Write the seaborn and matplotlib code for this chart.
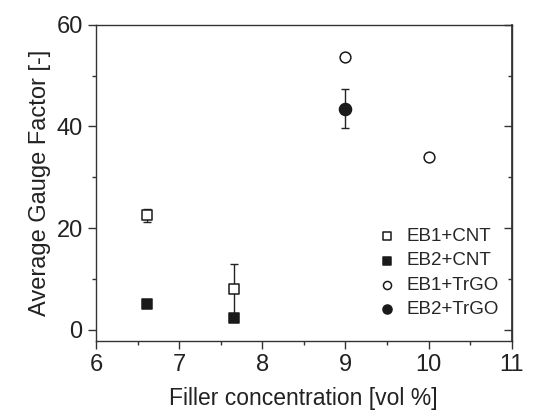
import matplotlib
matplotlib.use('Agg')
import matplotlib.pyplot as plt
from matplotlib.ticker import MultipleLocator
import seaborn as sns
import pandas as pd

# Data
series = ['EB1+CNT', 'EB2+CNT', 'EB1+TrGO', 'EB2+TrGO']
eb1_cnt_x = [6.62, 7.66]
eb1_cnt_y = [22.5, 8.0]
eb1_cnt_err = [1.3, 5.0]
eb2_cnt_x = [6.62, 7.66]
eb2_cnt_y = [5.0, 2.3]
eb2_cnt_err = [0.0, 0.0]
eb1_trgo_x = [9.0, 10.0]
eb1_trgo_y = [53.7, 34.0]
eb1_trgo_err = [0.0, 0.0]
eb2_trgo_x = [9.0]
eb2_trgo_y = [43.5]
eb2_trgo_err = [3.8]

df = pd.DataFrame({
    'x': eb1_cnt_x + eb2_cnt_x + eb1_trgo_x + eb2_trgo_x,
    'y': eb1_cnt_y + eb2_cnt_y + eb1_trgo_y + eb2_trgo_y,
    'err': eb1_cnt_err + eb2_cnt_err + eb1_trgo_err + eb2_trgo_err,
    'series': [series[0]] * 2 + [series[1]] * 2 + [series[2]] * 2 + [series[3]] * 1,
})

sns.set_theme(style='ticks')
plt.rcParams['font.family'] = ['Liberation Sans', 'DejaVu Sans']

fig, ax = plt.subplots(figsize=(5.33, 4.11), dpi=100)
fig.subplots_adjust(left=0.18, right=0.96, top=0.94, bottom=0.17)

# error bars first, underneath markers
for s in series:
    d = df[df['series'] == s]
    d = d[d['err'] > 0]
    if len(d):
        ax.errorbar(d['x'], d['y'], yerr=d['err'], fmt='none', ecolor='#222222',
                    elinewidth=1.0, capsize=3, capthick=1.0, zorder=1)

markers = {'EB1+CNT': 's', 'EB2+CNT': 's', 'EB1+TrGO': 'o', 'EB2+TrGO': 'o'}
faces = {'EB1+CNT': 'white', 'EB2+CNT': '#1a1a1a', 'EB1+TrGO': 'white', 'EB2+TrGO': '#1a1a1a'}
sizes = {'EB1+CNT': 62, 'EB2+CNT': 62, 'EB1+TrGO': 60, 'EB2+TrGO': 75}
for s in series:
    d = df[df['series'] == s]
    sns.scatterplot(x=d['x'], y=d['y'], ax=ax, marker=markers[s], s=sizes[s],
                    color=faces[s], edgecolor='#1a1a1a', linewidth=1.1,
                    label=s, zorder=3)

ax.set_xlim(6, 11)
ax.set_ylim(-2.2, 60)
ax.xaxis.set_major_locator(MultipleLocator(1))
ax.xaxis.set_minor_locator(MultipleLocator(0.5))
ax.yaxis.set_major_locator(MultipleLocator(20))
ax.yaxis.set_minor_locator(MultipleLocator(10))

for sp in ax.spines.values():
    sp.set_visible(True)
    sp.set_color('#333333')
    sp.set_linewidth(1.0)

ax.tick_params(which='both', direction='out', colors='#333333', labelsize=17,
               labelcolor='#222222')
ax.tick_params(which='major', length=6, width=1)
ax.tick_params(which='minor', length=3, width=1)
ax.tick_params(which='both', right=False, top=False)

# inward ticks on the right side
sec = ax.secondary_yaxis('right')
sec.yaxis.set_major_locator(MultipleLocator(20))
sec.yaxis.set_minor_locator(MultipleLocator(10))
sec.tick_params(which='both', direction='in', colors='#333333', labelright=False)
sec.tick_params(which='major', length=6, width=1)
sec.tick_params(which='minor', length=3, width=1)
sec.spines['right'].set_color('#333333')

ax.set_xlabel('Filler concentration [vol %]', fontsize=16.5, color='#222222', labelpad=8)
ax.set_ylabel('Average Gauge Factor [-]', fontsize=17, color='#222222', labelpad=4)

ax.legend(loc='lower right', frameon=False, fontsize=13.5, handletextpad=0.25,
          handlelength=1.6, labelspacing=0.38, bbox_to_anchor=(1.01, 0.02),
          markerscale=0.75)

plt.savefig('out.png', dpi=100)
